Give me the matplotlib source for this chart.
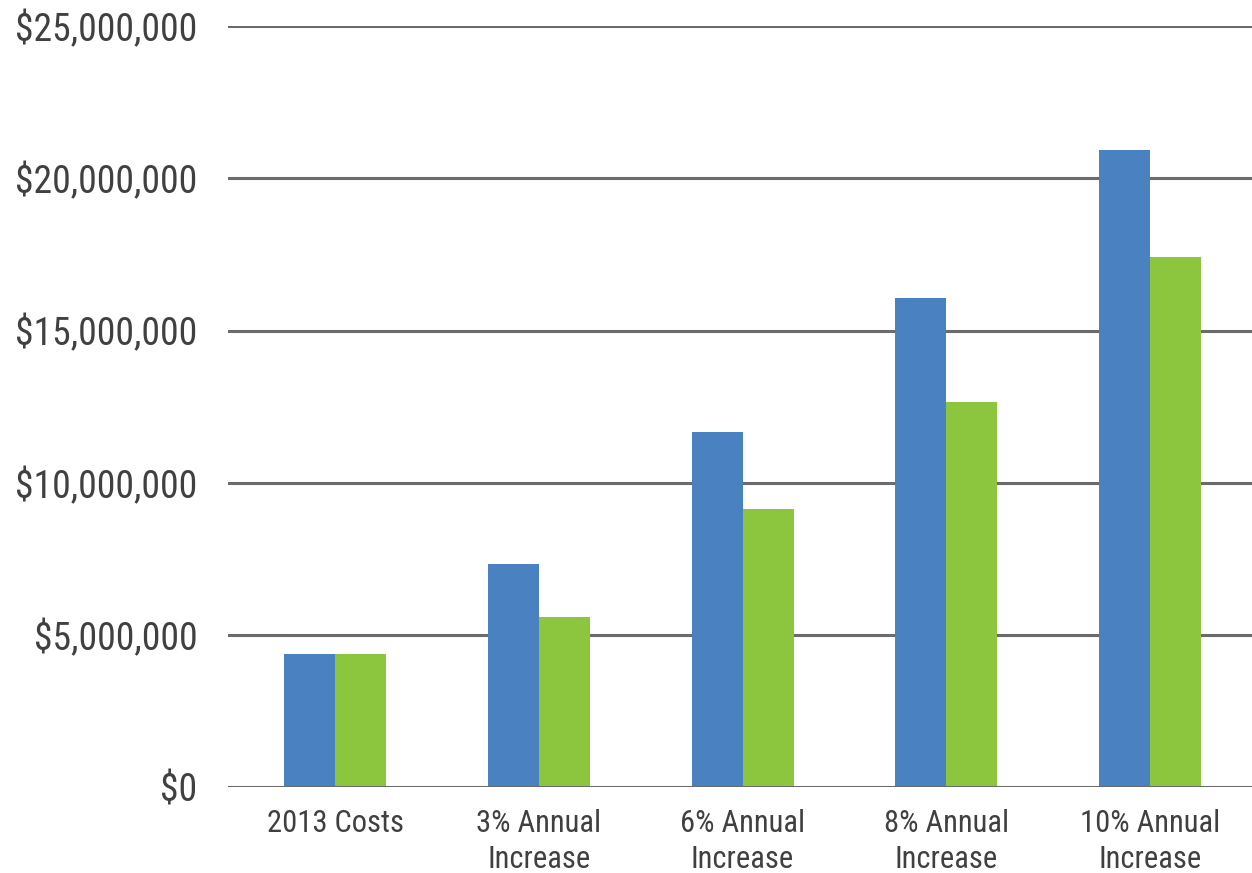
import numpy as np
import matplotlib
matplotlib.use('Agg')
import matplotlib.pyplot as plt
from matplotlib import font_manager
from matplotlib.ticker import FuncFormatter

# --- Data ---
categories = ['2013 Costs', '3% Annual\nIncrease', '6% Annual\nIncrease',
              '8% Annual\nIncrease', '10% Annual\nIncrease']
series_a = [4.37e6, 7.33e6, 11.66e6, 16.06e6, 20.93e6]
series_b = [4.37e6, 5.58e6, 9.13e6, 12.65e6, 17.41e6]
y_ticks = [0, 5e6, 10e6, 15e6, 20e6, 25e6]

installed = {f.name for f in font_manager.fontManager.ttflist}
families = [f for f in ['Roboto Condensed', 'Liberation Sans Narrow', 'Roboto', 'DejaVu Sans'] if f in installed]
plt.rcParams['font.family'] = families

BLUE = '#4a81c0'
GREEN = '#8cc63f'
GRID = '#6b6b6b'
TEXT = '#404040'

fig = plt.figure(figsize=(12.52, 8.73), dpi=100)
ax = fig.add_axes([0.182, 0.0985, 0.818, 0.8715])

x = np.arange(len(categories))
w = 0.25
ax.bar(x - w / 2, series_a, width=w, color=BLUE, zorder=3)
ax.bar(x + w / 2, series_b, width=w, color=GREEN, zorder=3)

for t in y_ticks:
    ax.axhline(t, color=GRID, linewidth=2.2, zorder=2 if t > 0 else 4)

ax.set_xlim(-0.526, 4.5)
ax.set_ylim(0, 25e6)
ax.set_yticks(y_ticks)
ax.yaxis.set_major_formatter(FuncFormatter(lambda v, p: f'${v:,.0f}'))
ax.set_xticks(x)
ax.set_xticklabels(categories, linespacing=1.28)

ax.tick_params(axis='y', length=0, pad=22, labelsize=27.2, labelcolor=TEXT)
ax.tick_params(axis='x', length=0, pad=16, labelsize=22, labelcolor=TEXT)
for s in ax.spines.values():
    s.set_visible(False)

fig.savefig('out.png', dpi=100)
